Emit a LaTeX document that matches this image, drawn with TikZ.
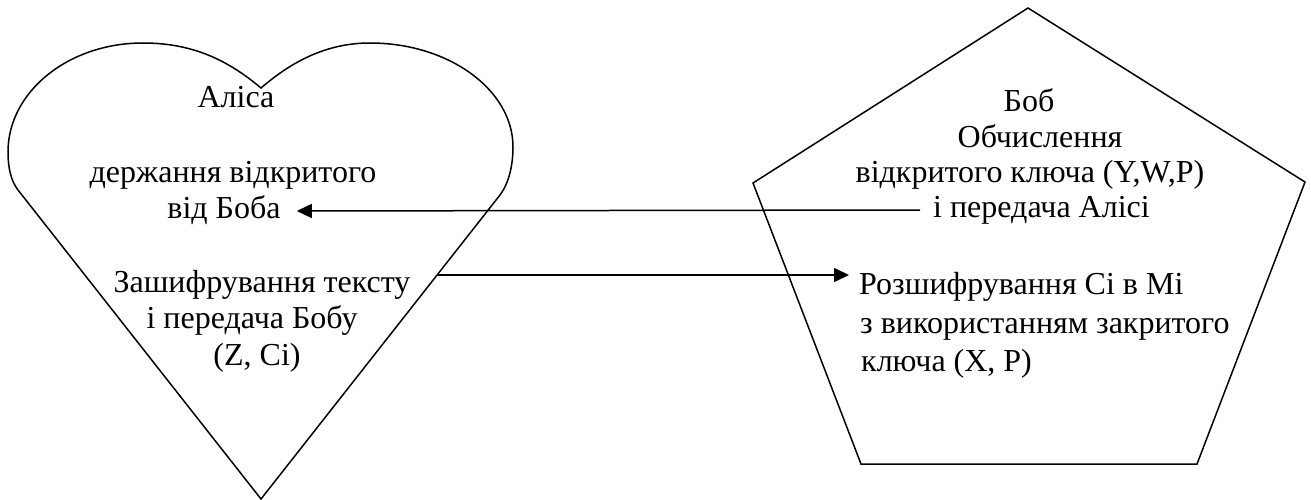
\documentclass[tikz,border=0pt]{standalone}
\usepackage{fontspec}
\setmainfont{Liberation Serif}
\usetikzlibrary{arrows.meta}
\begin{document}
\begin{tikzpicture}[x=1pt,y=-1pt,
  outline/.style={draw=black,line width=1.5pt,line join=miter},
  txt/.style={inner sep=0pt,font=\fontsize{32}{37}\selectfont},
  link/.style={draw=black,line width=1.5pt,-{Triangle[length=15pt,width=14pt]}}]
\fill[white] (0,0) rectangle (1311,500);
\useasboundingbox (0,0) rectangle (1311,500);

% Alice: heart outline
\draw[outline] (261,499) -- (18,190)
  .. controls (11,181) and (8,168) .. (8,152)
  .. controls (8,92) and (68,43) .. (143,43)
  .. controls (195,43) and (230,62) .. (261,88)
  .. controls (290,63) and (325,43) .. (370,43)
  .. controls (449,43) and (513,90) .. (513,147)
  .. controls (513,165) and (509,183) .. (500,195) -- cycle;

% Bob: pentagon outline
\draw[outline] (1028,8) -- (1305,182) -- (1197,464) -- (861,464) -- (753,183) -- cycle;

% Alice's texts
\node[txt,anchor=base] (alice) at (236,108) {Аліса};
\node[txt,anchor=base] (der)   at (233,182) {держання відкритого};
\node[txt,anchor=base] (vidboba) at (224,218) {від Боба};
\node[txt,anchor=base] (zash)  at (262,292) {Зашифрування тексту};
\node[txt,anchor=base] (peredbobu) at (252,328) {і передача Бобу};
\node[txt,anchor=base] (zci)   at (257,365) {(Z, Ci)};

% Bob's texts
\node[txt,anchor=base] (bob)   at (1029,112) {Боб};
\node[txt,anchor=base] (obch)  at (1040,147) {Обчислення};
\node[txt,anchor=base] (vidkr) at (1030,182) {відкритого ключа (Y,W,P)};
\node[txt,anchor=base west] (alisi) at (933,217) {і передача Алісі};
\node[txt,anchor=base west] (rozsh) at (859,294) {Розшифрування Сі в Мі};
\node[txt,anchor=base west] (zvyk)  at (860,333) {з використанням закритого};
\node[txt,anchor=base west] (kl)    at (861,371) {ключа (X, P)};

% exchange of messages
\coordinate (heartedge) at (437,275);
\draw[link] ([shift={(-13,-7)}]alisi.base west) -- ([shift={(16,-7)}]vidboba.base east);
\draw[link] (heartedge) -- ([shift={(-10,-19)}]rozsh.base west);
\end{tikzpicture}
\end{document}
